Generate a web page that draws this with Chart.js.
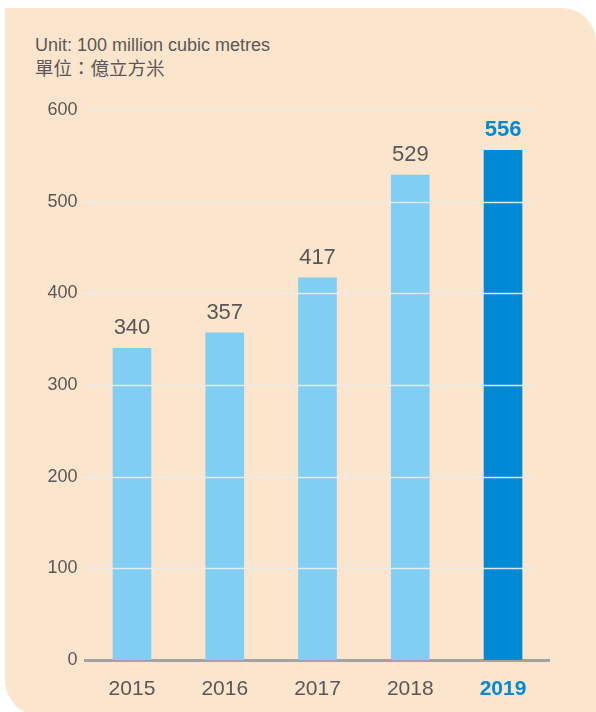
<!DOCTYPE html>
<html>
<head>
<meta charset="utf-8">
<script src="https://cdn.jsdelivr.net/npm/chart.js@4.4.1/dist/chart.umd.min.js"></script>
<style>
  html, body { margin:0; padding:0; background:#fff; }
  body { width:596px; height:712px; position:relative; overflow:hidden; font-family:"Liberation Sans", Arial, sans-serif; }
  #panel { position:absolute; left:5px; top:8px; width:591px; height:708px; background:#fce5cd; border-radius:0 34px 0 36px; }
  .unit { position:absolute; left:35px; color:#595757; font-size:18px; line-height:20px; }
  #chartCanvas { position:absolute; left:0; top:0; }
</style>
</head>
<body>
<div id="panel"></div>
<div class="unit" style="top:35px;">Unit: 100 million cubic metres</div>
<div class="unit" style="top:57px; font-family:'Noto Sans CJK TC', sans-serif; font-size:18.5px;">單位：億立方米</div>
<canvas id="chartCanvas" width="596" height="712"></canvas>
<script>
// data
const years = ['2015', '2016', '2017', '2018', '2019'];
const volumes = [340, 357, 417, 529, 556];
const yTicks = [0, 100, 200, 300, 400, 500, 600];

const lightBlue = '#80cef4';
const darkBlue = '#0089d5';
const textGray = '#595757';
const lastIdx = years.length - 1;

// gridlines on top of bars, a bit shorter than the base line
const gridPlugin = {
  id: 'gridOnTop',
  afterDatasetsDraw(chart){
    const ctx = chart.ctx, y = chart.scales.y, area = chart.chartArea;
    ctx.save();
    ctx.strokeStyle = 'rgba(235,235,235,0.95)';
    ctx.lineWidth = 1.5;
    for(const v of yTicks){
      if(v === 0) continue;
      const py = Math.round(y.getPixelForValue(v)) + 0.5;
      ctx.beginPath();
      ctx.moveTo(area.left, py);
      ctx.lineTo(area.right - 13, py);
      ctx.stroke();
    }
    ctx.restore();
  }
};

// value labels above bars
const valuePlugin = {
  id: 'values',
  afterDatasetsDraw(chart){
    const ctx = chart.ctx;
    const meta = chart.getDatasetMeta(0);
    ctx.save();
    ctx.textAlign = 'center';
    ctx.textBaseline = 'alphabetic';
    meta.data.forEach((bar, i) => {
      const last = i === lastIdx;
      ctx.font = (last ? 'bold ' : '') + '22px "Liberation Sans", Arial, sans-serif';
      ctx.fillStyle = last ? darkBlue : textGray;
      ctx.fillText(String(volumes[i]), bar.x, bar.y - 14);
    });
    ctx.restore();
  }
};

const ctx = document.getElementById('chartCanvas').getContext('2d');
const chart = new Chart(ctx, {
  type: 'bar',
  data: {
    labels: years,
    datasets: [{
      data: volumes,
      backgroundColor: years.map((_, i) => i === lastIdx ? darkBlue : lightBlue),
      borderWidth: 0,
      barThickness: 38
    }]
  },
  options: {
    responsive: false,
    animation: false,
    layout: { padding: { left: 0, right: 46.6, top: 110, bottom: 0 } },
    plugins: { legend: { display: false }, tooltip: { enabled: false } },
    scales: {
      x: {
        grid: { display: false, drawTicks: false },
        border: { display: true, color: '#a3a3a3', width: 3 },
        ticks: {
          padding: 17,
          color: ctx => ctx.index === lastIdx ? darkBlue : textGray,
          font: ctx => ({ family: '"Liberation Sans", Arial, sans-serif', size: 21, weight: ctx.index === lastIdx ? 'bold' : 'normal' })
        },
        afterFit(scale){ scale.height = 52; }
      },
      y: {
        min: 0, max: 600,
        afterBuildTicks(scale){ scale.ticks = yTicks.map(v => ({ value: v })); },
        grid: { display: false, drawTicks: false },
        border: { display: false },
        ticks: {
          padding: 8,
          color: textGray,
          font: { family: '"Liberation Sans", Arial, sans-serif', size: 18 }
        },
        afterFit(scale){ scale.width = 85.6; }
      }
    }
  },
  plugins: [gridPlugin, valuePlugin]
});
</script>
</body>
</html>
